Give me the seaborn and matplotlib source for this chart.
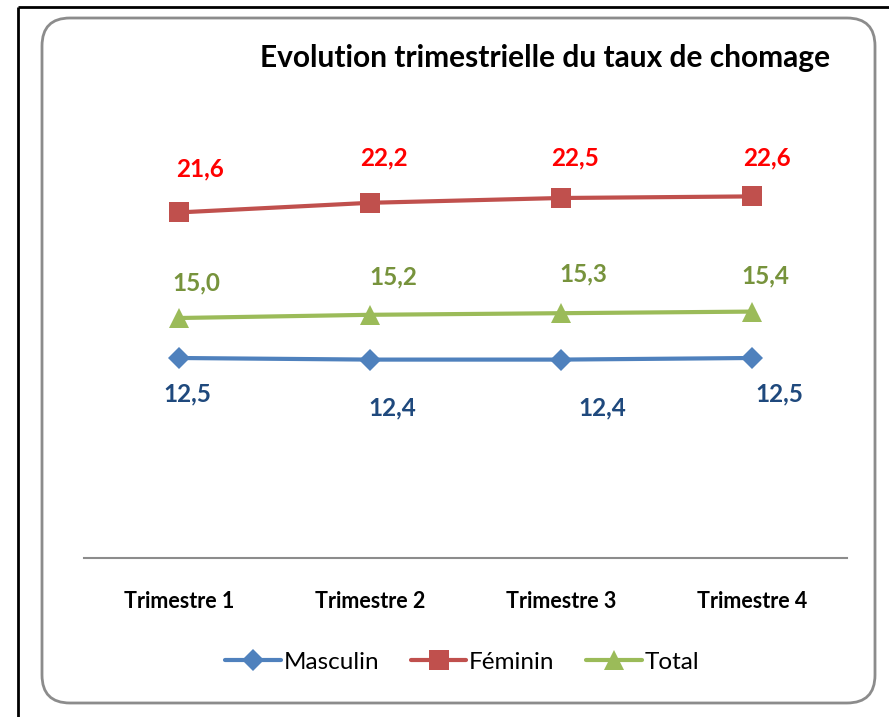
import pandas as pd
import matplotlib.pyplot as plt
import seaborn as sns
from matplotlib.patches import FancyBboxPatch

#chart values
trimestres = ["Trimestre 1", "Trimestre 2", "Trimestre 3", "Trimestre 4"]
masculin = [12.5, 12.4, 12.4, 12.5]
feminin = [21.6, 22.2, 22.5, 22.6]
total = [15.0, 15.2, 15.3, 15.4]
series_names = ["Masculin", "Féminin", "Total"]

#build a long table for seaborn
df = pd.DataFrame({
    "trimestre": trimestres * 3,
    "pos": list(range(len(trimestres))) * 3,
    "taux": masculin + feminin + total,
    "serie": [s for s in series_names for _ in trimestres],
})

sns.set_style("white")
plt.rcParams['font.family'] = ['Lato', 'DejaVu Sans']
plt.rcParams['text.color'] = 'black'
plt.rcParams['xtick.color'] = 'black'

W, H = 889, 717
fig = plt.figure(figsize=(W / 100, H / 100), dpi=100)

#background layer in pixel units (frame + rounded box)
bg = fig.add_axes([0, 0, 1, 1], zorder=0)
bg.set_xlim(0, W)
bg.set_ylim(H, 0)
bg.axis("off")
bg.plot([18, W], [7, 7], color="black", lw=2, solid_capstyle="butt")
bg.plot([18, 18], [7, H], color="black", lw=2, solid_capstyle="butt")
bg.add_patch(FancyBboxPatch((42 + 28, 18 + 28), 833 - 56, 685 - 56,
                            boxstyle="round,pad=28", fc="white", ec="#8c8c8c", lw=2))

#plot area: y=0 at pixel 558, y=25 at pixel 158
ax = fig.add_axes([84 / W, 1 - 558 / H, (847 - 84) / W, 400 / H], zorder=1)
ax.patch.set_alpha(0)

palette = {"Masculin": "#4F81BD", "Féminin": "#C0504D", "Total": "#9BBB59"}
markers = {"Masculin": "D", "Féminin": "s", "Total": "^"}
sns.lineplot(data=df, x="pos", y="taux", hue="serie", style="serie",
             palette=palette, markers=markers, dashes=False, linewidth=3,
             markersize=14, markeredgewidth=0, ax=ax, legend=False)
#the diamond looks bigger than the others, shrink it a bit
for line in ax.get_lines():
    if line.get_marker() == "D":
        line.set_markersize(11.5)

ax.set_xlim(-0.5, 3.5)
ax.set_ylim(0, 25)
ax.set_yticks([])
ax.set_xticks(range(len(trimestres)))
ax.set_xticklabels(trimestres, fontsize=15.5, fontweight="bold")
ax.tick_params(axis="x", length=0, pad=24)
ax.set_xlabel("")
ax.set_ylabel("")
for side in ["top", "left", "right"]:
    ax.spines[side].set_visible(False)
ax.spines["bottom"].set_color("#8c8c8c")
ax.spines["bottom"].set_linewidth(1.5)

#data labels (offsets in points)
label_colors = {"Masculin": "#1F497D", "Féminin": "#FF0000", "Total": "#77933C"}
label_offsets = {
    "Masculin": [(6, -26), (16, -35), (30, -35), (20, -26)],
    "Féminin": [(15, 31), (10, 32), (10, 29), (11, 28)],
    "Total": [(12, 25), (17, 27), (16, 28), (10, 26)],
}
values = {"Masculin": masculin, "Féminin": feminin, "Total": total}
for name in series_names:
    for i, v in enumerate(values[name]):
        dx, dy = label_offsets[name][i]
        ax.annotate(f"{v:.1f}".replace(".", ","), (i, v), xytext=(dx, dy),
                    textcoords="offset points", ha="center", va="center",
                    fontsize=17.5, fontweight="bold", color=label_colors[name])

#title
fig.text(545 / W, 1 - 58 / H, "Evolution trimestrielle du taux de chomage",
         ha="center", va="center", fontsize=21.5, fontweight="bold")

#legend
handles = [plt.Line2D([], [], color=palette[n], marker=markers[n], lw=3,
                      markersize=11.5 if markers[n] == "D" else 14,
                      markeredgewidth=0) for n in series_names]
fig.legend(handles, series_names, loc="center", bbox_to_anchor=(462 / W, 1 - 662 / H),
           ncol=3, frameon=False, fontsize=17.5, handlelength=2.3,
           handletextpad=0.1, columnspacing=1.3)

fig.savefig("out.png", dpi=100)
